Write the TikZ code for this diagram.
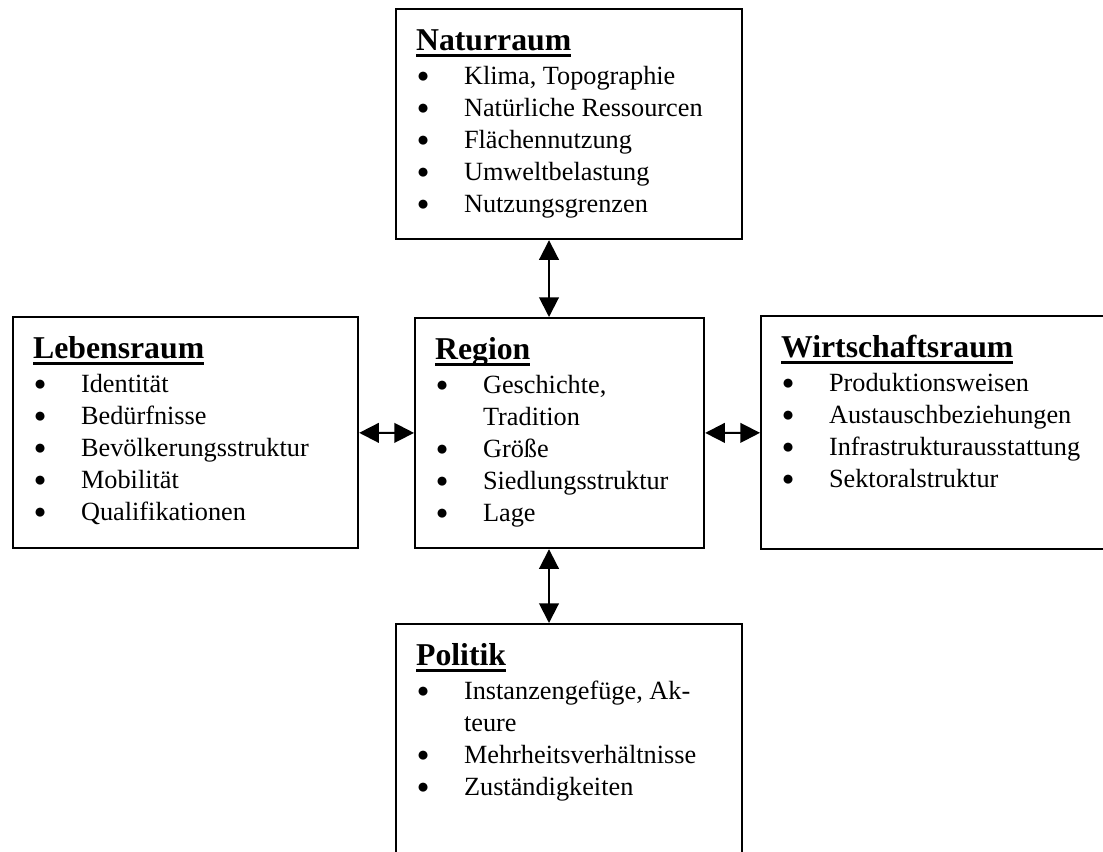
\documentclass[tikz,border=0pt]{standalone}
\usepackage{fontspec}
\setmainfont{Liberation Serif}
\usetikzlibrary{arrows.meta}

\newdimen\px \px=0.4566pt
\newcommand\ttl[1]{\setbox0\hbox{\fontsize{14.5}{16}\selectfont\bfseries #1}\rlap{\rule[-3pt]{\wd0}{1.5pt}}\box0}
\newcommand\punkt{\raisebox{0.9pt}{\fontsize{9.5}{10}\selectfont\char"25CF}}
\newcommand\bpt[1]{\par\hangindent=21.9pt\hangafter=1\noindent
  \makebox[21.9pt][l]{\hspace{0.4pt}\punkt}#1}
\newcommand\inhalt[4]{\parbox[c][#2\px][t]{#1\px}{\fontsize{12}{14.6}\selectfont\raggedright
  \noindent\rule{0pt}{18.9pt}\ttl{#3}\par\vspace{0.9pt}#4}}

\tikzset{
  feld/.style={draw, line width=1pt, inner xsep=9.13pt, inner ysep=0pt, anchor=north west},
  pfeil/.style={{Triangle[length=9pt,width=9pt]}-{Triangle[length=9pt,width=9pt]}, line width=0.9pt}
}

\begin{document}
\begin{tikzpicture}[x=0.4566pt, y=-0.4566pt]
                    \useasboundingbox (0,0) rectangle (1103,851);
                    \node[feld] (natur) at (395,8) {\inhalt{306}{230}{Naturraum}{%
                        \bpt{Klima, Topographie}\bpt{Natürliche Ressourcen}\bpt{Flächennutzung}%
                        \bpt{Umweltbelastung}\bpt{Nutzungsgrenzen}}};
                    \node[feld] (leben) at (12,316) {\inhalt{305}{231}{Lebensraum}{%
                        \bpt{Identität}\bpt{Bedürfnisse}\bpt{Bevölkerungsstruktur}%
                        \bpt{Mobilität}\bpt{Qualifikationen}}};
                    \node[feld] (region) at (414,317) {\inhalt{249}{230}{Region}{%
                        \bpt{Geschichte,\newline Tradition}\bpt{Größe}\bpt{Siedlungsstruktur}\bpt{Lage}}};
                    \node[feld] (wirtschaft) at (760,315) {\inhalt{308}{233}{Wirtschaftsraum}{%
                        \bpt{Produktionsweisen}\bpt{Austauschbeziehungen}%
                        \bpt{Infrastrukturausstattung}\bpt{Sektoralstruktur}}};
                    \node[feld] (politik) at (395,623) {\inhalt{306}{250}{Politik}{%
                        \bpt{Instanzengefüge, Ak-\newline teure}\bpt{Mehrheitsverhältnisse}%
                        \bpt{Zuständigkeiten}}};
                    \coordinate (mitte) at (549,0);
                    \draw[pfeil] (natur.south -| mitte) -- (region.north -| mitte);
                    \draw[pfeil] (region.south -| mitte) -- (politik.north -| mitte);
                    \draw[pfeil] (leben) -- (region);
                    \draw[pfeil] (region) -- (wirtschaft);
                \end{tikzpicture}
\end{document}
